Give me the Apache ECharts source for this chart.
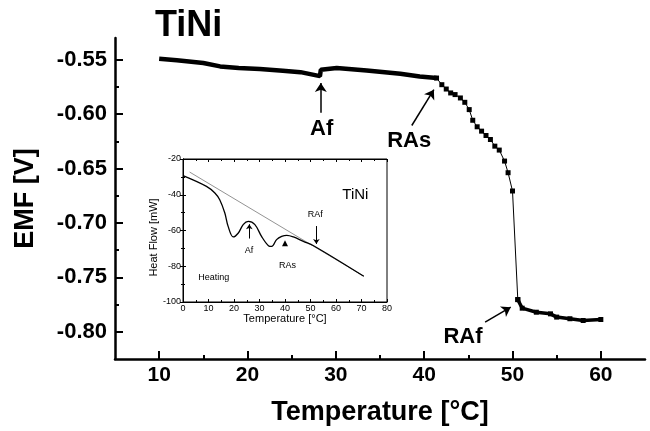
<!DOCTYPE html>
<html>
<head>
<meta charset="utf-8">
<script src="https://cdn.jsdelivr.net/npm/echarts@6/dist/echarts.min.js"></script>
<style>
html, body { margin: 0; padding: 0; background: #fff; }
#chart { width: 650px; height: 431px; }
</style>
</head>
<body>
<div id="chart"></div>
<script>
// main curve: EMF [V] vs temperature [°C]
let tempSolid = [10.0, 12.0, 15.0, 16.9, 19.0, 21.4, 24.0, 26.0, 28.2, 28.3, 30.1, 33.5, 37.3, 39.5, 41.4]
let emfSolid = [-0.5490, -0.5505, -0.5530, -0.5561, -0.5575, -0.5585, -0.5600, -0.5614, -0.5650, -0.5592, -0.5576, -0.5598, -0.5628, -0.5653, -0.5668]
let tempDrop = [41.4, 42.0, 42.5, 43.0, 43.5, 44.1, 44.6, 45.1, 45.5, 46.0, 46.5, 47.0, 47.5, 48.0, 48.5, 49.1, 49.5, 50.0, 50.6]
let emfDrop = [-0.5668, -0.5729, -0.5769, -0.5805, -0.5820, -0.5851, -0.5891, -0.5958, -0.6056, -0.6116, -0.6156, -0.6196, -0.6233, -0.6294, -0.6330, -0.6431, -0.6538, -0.6706, -0.7704]
let tempTail = [50.6, 51.1, 52.7, 54.3, 55.0, 56.5, 58.0, 60.0]
let emfTail = [-0.7704, -0.7783, -0.7820, -0.7835, -0.7865, -0.7880, -0.7896, -0.7887]

// inset: DSC heat flow [mW]
let dscTemp = [0, 9.2, 12.5, 14.4, 16.4, 17.7, 19.7, 21.7, 23.6, 25.6, 28.2, 30.8, 33.5, 34.8, 36.7, 38.7, 40.7, 43.3, 47.2, 51.2, 70.9]
let dscFlow = [-29.3, -35.3, -39.0, -42.8, -50.2, -57.7, -63.6, -61.4, -56.7, -54.9, -56.7, -63.3, -68.5, -68.9, -65.1, -63.3, -62.7, -63.6, -66.1, -68.5, -85.6]
let baseTemp = [2.6, 70.9]
let baseFlow = [-27.3, -85.6]

// tick values
let xMajor = [10, 20, 30, 40, 50, 60]
let xMinor = [15, 25, 35, 45, 55]
let yMajor = [-0.80, -0.75, -0.70, -0.65, -0.60, -0.55]
let yMinor = [-0.775, -0.725, -0.675, -0.625, -0.575]

// annotations
let noteNames = ['Af', 'RAs', 'RAf']
let notePos = [[28.4, -0.6132], [38.3, -0.6242], [44.4, -0.8046]]
let arrowTail = [[28.3, -0.5988], [38.6, -0.6104], [46.9, -0.7911]]
let arrowTip = [[28.3, -0.5713], [41.1, -0.5775], [49.8, -0.7774]]

let insetNames = ['TiNi', 'RAf', 'Af', 'RAs', 'Heating']
let insetPos = [[67.6, -40.0], [51.9, -51.3], [25.9, -71.3], [41.0, -79.7], [12.1, -86.1]]
let insetSizes = [15, 9, 9, 9, 9]
let insetTail = [[26, -64.5], [52.3, -57.5]]
let insetTip = [[26, -56.5], [52.3, -67.5]]
let insetTriangle = [40.0, -67.2]

let zip = (a, b) => a.map((v, i) => [v, b[i]])
let font = 'Liberation Sans, Arial, sans-serif'

let chart = echarts.init(document.getElementById('chart'))

let options = {
    animation: false,
    textStyle: { fontFamily: font, color: '#000' },
    title: {
        text: 'TiNi',
        left: 150,
        top: 3,
        textStyle: { fontSize: 36, fontWeight: 'bold', fontFamily: font, color: '#000' }
    },
    grid: [
        { left: 115, right: 5, top: 38, bottom: 71 },
        { left: 183, right: 263, top: 159, bottom: 129, show: true, backgroundColor: '#fff', borderColor: '#000', borderWidth: 1, z: 5 }
    ],
    xAxis: [
        {
            gridIndex: 0, type: 'value', min: 5, max: 65, position: 'bottom',
            name: 'Temperature [°C]', nameLocation: 'middle', nameGap: 40,
            nameTextStyle: { fontSize: 27, fontWeight: 'bold' },
            axisLine: { lineStyle: { color: '#000', width: 2.5 } },
            axisTick: { inside: true, length: 8, lineStyle: { width: 2 }, customValues: xMajor },
            axisLabel: { fontSize: 21, fontWeight: 'bold', color: '#000', margin: 6, customValues: xMajor },
            splitLine: { show: false }
        },
        {
            gridIndex: 0, type: 'value', min: 5, max: 65, position: 'bottom',
            axisLine: { show: false },
            axisTick: { inside: true, length: 4, lineStyle: { width: 2, color: '#000' }, customValues: xMinor },
            axisLabel: { show: false },
            splitLine: { show: false }
        },
        {
            gridIndex: 1, type: 'value', min: 0, max: 80, interval: 10, position: 'bottom',
            name: 'Temperature [°C]', nameLocation: 'middle', nameGap: 9,
            nameTextStyle: { fontSize: 11 },
            axisLine: { lineStyle: { color: '#000', width: 1 } },
            axisTick: { inside: true, length: 3 },
            minorTick: { show: true, splitNumber: 2, length: 2, lineStyle: { color: '#000' } },
            axisLabel: { fontSize: 9, color: '#000', margin: 2 },
            splitLine: { show: false }, z: 6
        },
        {
            gridIndex: 1, type: 'value', min: 0, max: 80, interval: 10, position: 'top',
            axisLine: { lineStyle: { color: '#000', width: 1 } },
            axisTick: { inside: true, length: 3 },
            minorTick: { show: true, splitNumber: 2, length: 2, lineStyle: { color: '#000' } },
            axisLabel: { show: false },
            splitLine: { show: false }, z: 6
        }
    ],
    yAxis: [
        {
            gridIndex: 0, type: 'value', min: -0.825, max: -0.53, position: 'left',
            name: 'EMF [V]', nameLocation: 'middle', nameGap: 76,
            nameTextStyle: { fontSize: 27, fontWeight: 'bold' },
            axisLine: { show: true, lineStyle: { color: '#000', width: 2.5 } },
            axisTick: { show: true, inside: true, length: 8, lineStyle: { width: 2 }, customValues: yMajor },
            axisLabel: { fontSize: 22, fontWeight: 'bold', color: '#000', margin: 8, customValues: yMajor, formatter: v => v.toFixed(2) },
            splitLine: { show: false }
        },
        {
            gridIndex: 0, type: 'value', min: -0.825, max: -0.53, position: 'left',
            axisLine: { show: false },
            axisTick: { show: true, inside: true, length: 4, lineStyle: { width: 2, color: '#000' }, customValues: yMinor },
            axisLabel: { show: false },
            splitLine: { show: false }
        },
        {
            gridIndex: 1, type: 'value', min: -100, max: -20, interval: 20, position: 'left',
            name: 'Heat Flow [mW]', nameLocation: 'middle', nameGap: 20,
            nameTextStyle: { fontSize: 11, padding: [0, 0, 0, -14] },
            axisLine: { show: true, lineStyle: { color: '#000', width: 1 } },
            axisTick: { show: true, inside: true, length: 3 },
            minorTick: { show: true, splitNumber: 2, length: 2, lineStyle: { color: '#000' } },
            axisLabel: { fontSize: 9, color: '#000', margin: 2 },
            splitLine: { show: false }, z: 6
        },
        {
            gridIndex: 1, type: 'value', min: -100, max: -20, interval: 20, position: 'right',
            axisLine: { show: true, lineStyle: { color: '#000', width: 1 } },
            axisTick: { show: true, inside: true, length: 3 },
            minorTick: { show: true, splitNumber: 2, length: 2, lineStyle: { color: '#000' } },
            axisLabel: { show: false },
            splitLine: { show: false }, z: 6
        }
    ],
    series: [
        {
            name: 'EMF', type: 'line', xAxisIndex: 0, yAxisIndex: 0,
            data: zip(tempSolid, emfSolid), showSymbol: false,
            lineStyle: { color: '#000', width: 4.5 }
        },
        {
            name: 'EMF drop', type: 'line', xAxisIndex: 0, yAxisIndex: 0,
            data: zip(tempDrop, emfDrop), symbol: 'rect', symbolSize: 5,
            itemStyle: { color: '#000' }, lineStyle: { color: '#000', width: 1 }
        },
        {
            name: 'EMF tail', type: 'line', xAxisIndex: 0, yAxisIndex: 0,
            data: zip(tempTail, emfTail), symbol: 'rect', symbolSize: 5,
            itemStyle: { color: '#000' }, lineStyle: { color: '#000', width: 3.5 }
        },
        {
            name: 'labels', type: 'scatter', xAxisIndex: 0, yAxisIndex: 0,
            symbolSize: 0, silent: true,
            itemStyle: { color: '#000', opacity: 1 },
            data: noteNames.map((n, i) => ({ name: n, value: notePos[i] })),
            label: { show: true, position: 'inside', formatter: '{b}', fontSize: 22, fontWeight: 'bold', color: '#000', opacity: 1 },
            markLine: {
                silent: true, symbolSize: 9, animation: false,
                label: { show: false },
                lineStyle: { color: '#000', width: 1.5, type: 'solid' },
                data: arrowTail.map((a, i) => [{ coord: a, symbol: 'none' }, { coord: arrowTip[i], symbol: 'arrow' }])
            }
        },
        {
            name: 'baseline', type: 'line', xAxisIndex: 2, yAxisIndex: 2, z: 7,
            data: zip(baseTemp, baseFlow), showSymbol: false,
            lineStyle: { color: '#777', width: 0.8 }
        },
        {
            name: 'heat flow', type: 'line', xAxisIndex: 2, yAxisIndex: 2, z: 8,
            data: zip(dscTemp, dscFlow), showSymbol: false, smooth: 0.35,
            lineStyle: { color: '#000', width: 1.3 }
        },
        {
            name: 'inset labels', type: 'scatter', xAxisIndex: 2, yAxisIndex: 2, z: 9,
            symbolSize: 0, silent: true,
            itemStyle: { color: '#000', opacity: 1 },
            data: insetNames.map((n, i) => ({
                name: n, value: insetPos[i],
                label: { fontSize: insetSizes[i] }
            })),
            label: { show: true, position: 'inside', formatter: '{b}', color: '#000', opacity: 1 },
            markLine: {
                silent: true, symbolSize: 5, animation: false,
                label: { show: false },
                lineStyle: { color: '#000', width: 1, type: 'solid' },
                data: insetTail.map((a, i) => [{ coord: a, symbol: 'none' }, { coord: insetTip[i], symbol: 'arrow' }])
            }
        },
        {
            name: 'RAs mark', type: 'scatter', xAxisIndex: 2, yAxisIndex: 2, z: 9,
            symbol: 'triangle', symbolSize: [6, 6], silent: true,
            itemStyle: { color: '#000', opacity: 1 },
            data: [insetTriangle]
        }
    ]
}

chart.setOption(options)
</script>
</body>
</html>
